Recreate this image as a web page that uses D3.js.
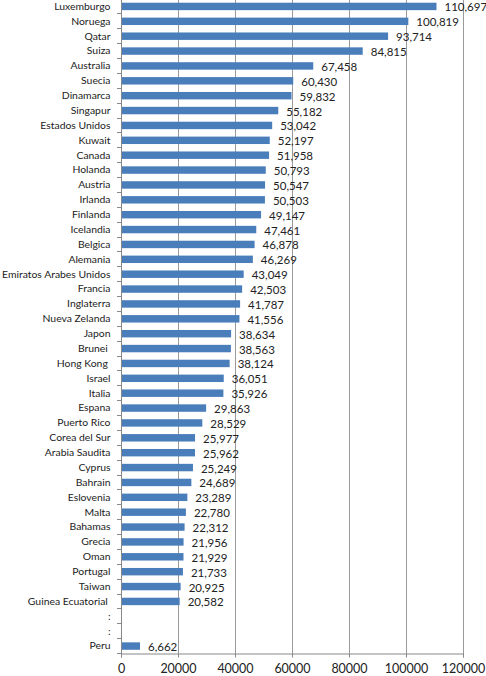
<!DOCTYPE html>
<html>
<head>
<meta charset="utf-8">
<script src="https://cdn.jsdelivr.net/npm/d3@7"></script>
<style>
html,body{margin:0;padding:0;background:#fff;}
svg{display:block;}
text{font-family:Lato,"Noto Sans",sans-serif;fill:#222;}
</style>
</head>
<body>
<svg id="chart" width="486" height="676"></svg>
<script>
const countries = ["Luxemburgo","Noruega","Qatar","Suiza","Australia","Suecia","Dinamarca","Singapur","Estados Unidos","Kuwait","Canada","Holanda","Austria","Irlanda","Finlanda","Icelandia","Belgica","Alemania","Emiratos Arabes Unidos","Francia","Inglaterra","Nueva Zelanda","Japon","Brunei ","Hong Kong ","Israel","Italia","Espana","Puerto Rico","Corea del Sur","Arabia Saudita","Cyprus","Bahrain","Eslovenia","Malta","Bahamas","Grecia","Oman","Portugal","Taiwan","Guinea Ecuatorial ",":a",":b","Peru"];
const values = [110697,100819,93714,84815,67458,60430,59832,55182,53042,52197,51958,50793,50547,50503,49147,47461,46878,46269,43049,42503,41787,41556,38634,38563,38124,36051,35926,29863,28529,25977,25962,25249,24689,23289,22780,22312,21956,21929,21733,20925,20582,null,null,6662];
const xTicks = [0,20000,40000,60000,80000,100000,120000];

(function(){
const svg = d3.select("#chart");
const mLeft = 121, mRight = 463, mTop = -1, mBottom = 653.5;

const x = d3.scaleLinear().domain([0,120000]).range([mLeft,mRight]);
const y = d3.scaleBand().domain(countries).range([mTop,mBottom]).paddingInner(0.5).paddingOuter(0.25);

// gridlines
svg.append("g").selectAll("line").data(xTicks.slice(1)).join("line")
  .attr("x1",d=>x(d)).attr("x2",d=>x(d))
  .attr("y1",0).attr("y2",mBottom)
  .attr("stroke","#9a9a9a").attr("stroke-width",1).attr("shape-rendering","crispEdges");

// bars
const data = countries.map((c,i)=>({c, v: values[i]})).filter(d=>d.v!=null);
svg.append("g").selectAll("rect").data(data).join("rect")
  .attr("x",x(0)).attr("y",d=>y(d.c))
  .attr("width",d=>x(d.v)-x(0)).attr("height",y.bandwidth())
  .attr("fill","#4a7ebb");

// value labels
const fmt = d3.format(",");
svg.append("g").selectAll("text").data(data).join("text")
  .attr("x",d=>x(d.v)+8).attr("y",d=>y(d.c)+y.bandwidth()/2+1)
  .attr("dy","0.35em").attr("font-size",11.5)
  .text(d=>fmt(d.v));

// y axis
const yAxis = d3.axisLeft(y).tickSize(0).tickPadding(10.5)
  .tickFormat(d=>d.startsWith(":")?":":d);
const gy = svg.append("g").attr("transform",`translate(${mLeft},0)`).call(yAxis);
gy.select(".domain").attr("stroke","#888");
gy.selectAll("text").attr("font-size",10.4).style("white-space","pre")
  .style("font-family","Lato, 'Noto Sans', sans-serif").attr("fill","#222");
// y boundary ticks
const bounds = d3.range(countries.length+1).map(i=>mTop + i*(mBottom-mTop)/countries.length);
svg.append("g").selectAll("line").data(bounds).join("line")
  .attr("x1",mLeft-4).attr("x2",mLeft).attr("y1",d=>d).attr("y2",d=>d)
  .attr("stroke","#888").attr("shape-rendering","crispEdges");

// x axis
const xAxis = d3.axisBottom(x).tickValues(xTicks).tickSize(4).tickPadding(7).tickFormat(d3.format("d"));
const gx = svg.append("g").attr("transform",`translate(0,${mBottom})`).call(xAxis);
gx.select(".domain").attr("stroke","#888");
gx.selectAll(".tick line").attr("stroke","#888");
gx.selectAll("text").attr("font-size",12.5).style("font-family","Lato, 'Noto Sans', sans-serif").attr("fill","#222");
})();
</script>
</body>
</html>
